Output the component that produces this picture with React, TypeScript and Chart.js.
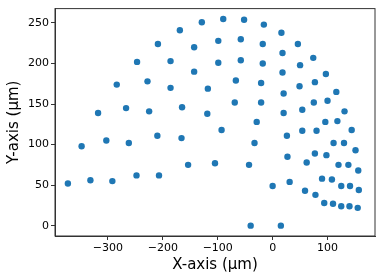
import React, { useEffect, useRef } from "react";
import { Chart, registerables } from "chart.js";

Chart.register(...registerables);

const xValues = [
  -373, -348, -332, -318, -303, -292, -284, -267, -262, -248, -247, -228, -225, -210, -209, -207,
  -186, -186, -169, -166, -165, -154, -143, -143, -129, -118, -119, -105, -99, -99, -93, -90,
  -69, -67, -58, -58, -52, -43, -40, -33, -29, -21, -21, -18, -18, -16, 0, 15,
  16, 18, 18, 20, 20, 26, 27, 31, 46, 49, 50, 54, 54, 59, 62, 74,
  75, 77, 77, 78, 80, 90, 94, 96, 97, 98, 100, 108, 110, 111, 116, 118,
  120, 125, 125, 130, 131, 138, 140, 141, 144, 151, 155, 156, 157,
];
const yValues = [
  52, 98, 56, 139, 105, 55, 174, 145, 102, 62, 202, 178, 141, 111, 224, 62,
  203, 170, 241, 108, 146, 75, 220, 190, 251, 169, 138, 77, 228, 201, 118, 255,
  152, 179, 230, 204, 254, 75, 0, 102, 128, 176, 152, 224, 200, 248, 49, 0,
  238, 213, 189, 163, 139, 111, 85, 54, 224, 172, 198, 143, 117, 43, 78, 207,
  152, 177, 89, 38, 117, 58, 28, 128, 187, 87, 154, 57, 27, 102, 165, 129,
  75, 49, 24, 102, 141, 75, 24, 49, 118, 93, 22, 68, 44,
];
const xTicks = [-300, -200, -100, 0, 100];
const yTicks = [0, 50, 100, 150, 200, 250];
const xLabel = "X-axis (\u03bcm)";
const yLabel = "Y-axis (\u03bcm)";

const fmt = (v: number) => (v < 0 ? "\u2212" + Math.abs(v) : String(v));

export default function App() {
  const ref = useRef<HTMLCanvasElement>(null);
  useEffect(() => {
    document.body.style.margin = "0";
    const ctx = ref.current!;
    const frame = {
      id: "frame",
      afterDatasetsDraw(chart: any) {
        const { left, right, top, bottom } = chart.chartArea;
        const c = chart.ctx;
        c.save();
        c.strokeStyle = "#333";
        c.lineWidth = 1;
        c.strokeRect(left, top, right - left, bottom - top);
        c.restore();
      },
    };
    const chart = new Chart(ctx, {
      type: "scatter",
      data: {
        datasets: [
          {
            data: xValues.map((x, i) => ({ x, y: yValues[i] })),
            backgroundColor: "#1f77b4",
            borderColor: "#1f77b4",
            pointRadius: 3.2,
            pointHoverRadius: 3.2,
            borderWidth: 0,
          },
        ],
      },
      options: {
        animation: false,
        responsive: false,
        maintainAspectRatio: false,
        layout: { padding: { top: 6, right: 6, left: 0, bottom: 0 } },
        plugins: { legend: { display: false }, tooltip: { enabled: false } },
        scales: {
          x: {
            type: "linear",
            min: -396.5,
            max: 186.5,
            afterBuildTicks: (s: any) => {
              s.ticks = xTicks.map((v) => ({ value: v }));
            },
            afterFit: (s: any) => {
              s.height = 44;
            },
            grid: { drawOnChartArea: false, drawTicks: true, tickLength: 4, color: "#333" },
            border: { display: true, color: "#333" },
            ticks: {
              color: "#000",
              font: { family: "DejaVu Sans", size: 11 },
              padding: 2,
              maxRotation: 0,
              callback: (v: any) => fmt(Number(v)),
            },
            title: {
              display: true,
              text: xLabel,
              color: "#000",
              font: { family: "DejaVu Sans", size: 15 },
              padding: { top: 0, bottom: 6 },
            },
          },
          y: {
            type: "linear",
            min: -12.75,
            max: 267.75,
            afterBuildTicks: (s: any) => {
              s.ticks = yTicks.map((v) => ({ value: v }));
            },
            afterFit: (s: any) => {
              s.width = 55;
            },
            grid: { drawOnChartArea: false, drawTicks: true, tickLength: 4, color: "#333" },
            border: { display: true, color: "#333" },
            ticks: {
              color: "#000",
              font: { family: "DejaVu Sans", size: 11 },
              padding: 2,
              callback: (v: any) => fmt(Number(v)),
            },
            title: {
              display: true,
              text: yLabel,
              color: "#000",
              font: { family: "DejaVu Sans", size: 15 },
              padding: { top: 5, bottom: 0 },
            },
          },
        },
      },
      plugins: [frame],
    });
    return () => chart.destroy();
  }, []);
  return (
    <div style={{ position: "relative", width: 381, height: 280 }}>
      <canvas ref={ref} width={381} height={280} style={{ width: 381, height: 280, display: "block" }} />
    </div>
  );
}
